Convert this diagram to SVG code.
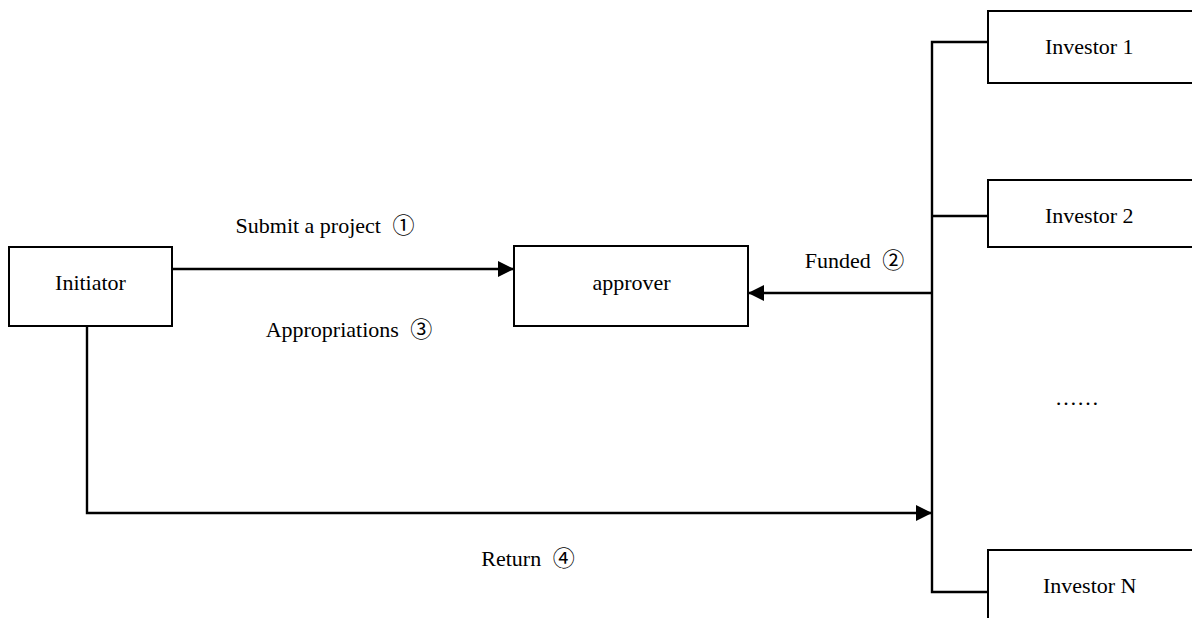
<svg xmlns="http://www.w3.org/2000/svg" width="1192" height="618" viewBox="0 0 1192 618">
  <style>
    .box { fill: #ffffff; stroke: #000000; stroke-width: 2; }
    .conn { fill: none; stroke: #000000; stroke-width: 2.4; }
    .lbl { font-family: "Liberation Serif", "Noto Sans CJK SC", serif; font-size: 22px; fill: #000000; }
    .mid { text-anchor: middle; }
  </style>
  <defs>
    <marker id="arrow" markerUnits="userSpaceOnUse" markerWidth="17" markerHeight="17" refX="16" refY="8" orient="auto">
      <path d="M0,0 L16,8 L0,16 z" fill="#000000"/>
    </marker>
  </defs>
  <rect width="1192" height="618" fill="#ffffff"/>

  <g id="connectors">
    <line class="conn" x1="172" y1="269" x2="514" y2="269" marker-end="url(#arrow)"/>
    <line class="conn" x1="932" y1="293" x2="748" y2="293" marker-end="url(#arrow)"/>
    <polyline class="conn" points="988,42 932,42 932,592 988,592"/>
    <line class="conn" x1="932" y1="216" x2="988" y2="216"/>
    <polyline class="conn" points="87,326 87,513 932,513" marker-end="url(#arrow)"/>
  </g>

  <g id="initiator">
    <rect class="box" x="9" y="247" width="163" height="79"/>
    <text class="lbl mid" x="90.5" y="290">Initiator</text>
  </g>
  <g id="approver">
    <rect class="box" x="514" y="246" width="234" height="80"/>
    <text class="lbl mid" x="631.5" y="290">approver</text>
  </g>
  <g id="investor1">
    <rect class="box" x="988" y="11" width="220" height="72"/>
    <text class="lbl" x="1045" y="54">Investor 1</text>
  </g>
  <g id="investor2">
    <rect class="box" x="988" y="180" width="220" height="67"/>
    <text class="lbl" x="1045" y="223">Investor 2</text>
  </g>
  <g id="ellipsis">
    <text class="lbl mid" x="1077" y="405">……</text>
  </g>
  <g id="investorN">
    <rect class="box" x="988" y="550" width="220" height="90"/>
    <text class="lbl" x="1043" y="593">Investor N</text>
  </g>

  <g id="labels">
    <text class="lbl mid" x="325" y="233">Submit a project <tspan dx="6">①</tspan></text>
    <text class="lbl mid" x="349" y="337">Appropriations <tspan dx="6">③</tspan></text>
    <text class="lbl mid" x="854.5" y="268">Funded <tspan dx="6">②</tspan></text>
    <text class="lbl mid" x="528" y="566">Return <tspan dx="6">④</tspan></text>
  </g>
</svg>
